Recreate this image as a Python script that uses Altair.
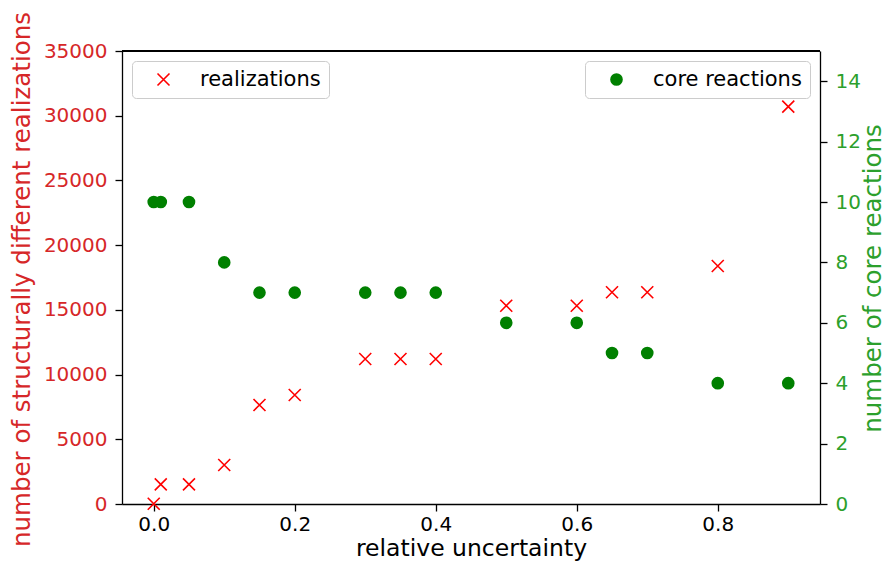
import altair as alt
import pandas as pd

# ---- data ----
uncertainty = [0.0, 0.01, 0.05, 0.1, 0.15, 0.2, 0.3, 0.35, 0.4, 0.5, 0.6, 0.65, 0.7, 0.8, 0.9]
realizations = [20, 1520, 1520, 3010, 7650, 8420, 11200, 11200, 11200, 15320, 15320, 16360, 16360, 18390, 30700]
core_reactions = [10, 10, 10, 8, 7, 7, 7, 7, 7, 6, 6, 5, 5, 4, 4]
x_ticks = [0.0, 0.2, 0.4, 0.6, 0.8]
left_ticks = [0, 5000, 10000, 15000, 20000, 25000, 30000, 35000]
right_ticks = [0, 2, 4, 6, 8, 10, 12, 14]

df = pd.DataFrame({
    "u": uncertainty,
    "realizations": realizations,
    "core": core_reactions,
})

FONT = "DejaVu Sans"
RED_TXT = "#d62728"
GREEN_TXT = "#2ca02c"
CROSS = "M-1,-1L1,1M-1,1L1,-1"
LW = 1.3
W, H = 698, 453

x_enc = alt.X(
    "u:Q",
    scale=alt.Scale(domain=[-0.045, 0.945], nice=False, zero=False),
    axis=alt.Axis(
        title="relative uncertainty", values=x_ticks, format=".1f", grid=False,
        tickSize=7, tickColor="black", domainColor="black",
        tickWidth=LW, domainWidth=LW,
        labelFontSize=20, labelColor="black", labelPadding=3,
        titleFontSize=23.5, titleColor="black", titleFontWeight="normal",
        titlePadding=2, labelFont=FONT, titleFont=FONT,
    ),
)

legend_common = dict(
    title=None, labelFontSize=21, labelColor="black", labelFont=FONT,
    strokeColor="#cccccc", fillColor="white", cornerRadius=4,
    padding=8, offset=10, labelOffset=26, symbolOffset=13,
)

left = alt.Chart(df).transform_calculate(s1="'realizations'").mark_point(
    shape=CROSS, filled=False, size=144, strokeWidth=1.6, opacity=1
).encode(
    x=x_enc,
    y=alt.Y(
        "realizations:Q",
        scale=alt.Scale(domain=[0, 35000], nice=False),
        axis=alt.Axis(
            title="number of structurally different realizations", orient="left",
            values=left_ticks, format="d", grid=False,
            tickSize=7, tickColor="black", domainColor="black",
            tickWidth=LW, domainWidth=LW,
            labelFontSize=20, labelColor=RED_TXT, labelPadding=8,
            titleFontSize=24.5, titleColor=RED_TXT, titleFontWeight="normal",
            titleX=-100, titleY=228, titleAngle=270, titleAlign="center",
            titleBaseline="middle", labelFont=FONT, titleFont=FONT,
        ),
    ),
    color=alt.Color(
        "s1:N",
        scale=alt.Scale(domain=["realizations"], range=["#ff0000"]),
        legend=alt.Legend(orient="top-left", symbolType=CROSS, symbolSize=144,
                          symbolStrokeWidth=1.6, **legend_common),
    ),
)

right = alt.Chart(df).transform_calculate(s2="'core reactions'").mark_circle(
    size=160, opacity=1
).encode(
    x=x_enc,
    y=alt.Y(
        "core:Q",
        scale=alt.Scale(domain=[0, 15], nice=False),
        axis=alt.Axis(
            title="number of core reactions", orient="right",
            values=right_ticks, format="d", grid=False,
            tickSize=7, tickColor="black", domainColor="black",
            tickWidth=LW, domainWidth=LW,
            labelFontSize=20, labelColor=GREEN_TXT, labelPadding=8,
            titleFontSize=24.5, titleColor=GREEN_TXT, titleFontWeight="normal",
            titleX=53, titleY=227, titleAngle=270, titleAlign="center",
            titleBaseline="middle", labelFont=FONT, titleFont=FONT,
        ),
    ),
    color=alt.Color(
        "s2:N",
        scale=alt.Scale(domain=["core reactions"], range=["#008000"]),
        legend=alt.Legend(orient="top-right", symbolType="circle", symbolSize=160,
                          **legend_common),
    ),
)

# top spine of the frame
top_spine = alt.Chart(df).mark_rule(color="black", strokeWidth=LW).encode(
    x=alt.value(0), x2=alt.value(W), y=alt.value(0)
)

chart = alt.layer(left, right, top_spine).resolve_scale(
    y="independent", color="independent"
).resolve_legend(color="independent").properties(
    width=W, height=H,
    autosize=alt.AutoSizeParams(type="none"),
    padding={"left": 114, "top": 43, "right": 65, "bottom": 60},
).configure_view(stroke="black", strokeWidth=LW).configure(font=FONT)

chart.save("out.html", embed_options={"renderer": "svg", "actions": False})
